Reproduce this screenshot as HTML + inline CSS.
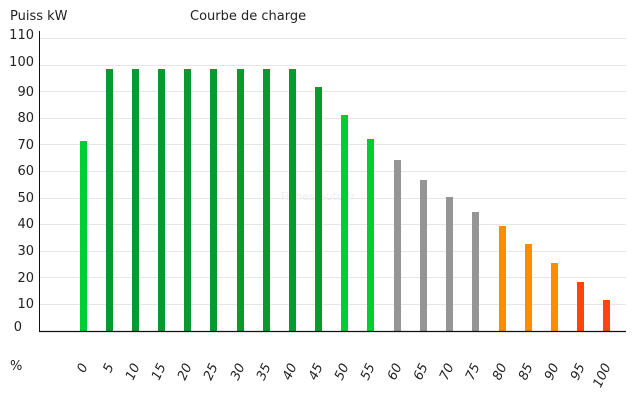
<!DOCTYPE html>
<html><head><meta charset="utf-8"><style>
html,body{margin:0;padding:0;background:#fff;}
svg{display:block;font-family:"DejaVu Sans","Liberation Sans",sans-serif;}
</style></head><body>
<svg width="640" height="400" viewBox="0 0 640 400">
<text x="10" y="20" font-size="13" fill="#222">Puiss kW</text>
<text x="190" y="20" font-size="13" fill="#222">Courbe de charge</text>
<g stroke="#e6e6e6" stroke-width="1">
<line x1="40" x2="626" y1="38.5" y2="38.5"/><line x1="40" x2="626" y1="65.5" y2="65.5"/>
<line x1="40" x2="626" y1="91.5" y2="91.5"/><line x1="40" x2="626" y1="118.5" y2="118.5"/>
<line x1="40" x2="626" y1="144.5" y2="144.5"/><line x1="40" x2="626" y1="171.5" y2="171.5"/>
<line x1="40" x2="626" y1="198.5" y2="198.5"/><line x1="40" x2="626" y1="224.5" y2="224.5"/>
<line x1="40" x2="626" y1="251.5" y2="251.5"/><line x1="40" x2="626" y1="277.5" y2="277.5"/>
<line x1="40" x2="626" y1="304.5" y2="304.5"/>
</g>
<g font-size="13" fill="#222" text-anchor="end">
<text x="34" y="39">110</text><text x="34" y="66">100</text><text x="34" y="96">90</text>
<text x="34" y="122">80</text><text x="34" y="149">70</text><text x="34" y="175">60</text>
<text x="34" y="202">50</text><text x="34" y="228">40</text><text x="34" y="255">30</text>
<text x="34" y="282">20</text><text x="34" y="308">10</text><text x="22" y="331">0</text>
</g>
<text x="10" y="370" font-size="13" fill="#222">%</text>
<text x="318" y="200" font-size="11" fill="#eee" text-anchor="middle">Fiches-auto.fr</text>
<g>
<rect x="80" y="141" width="7" height="190" fill="#00cc33"/>
<rect x="106" y="69" width="7" height="262" fill="#069a30"/>
<rect x="132" y="69" width="7" height="262" fill="#069a30"/>
<rect x="158" y="69" width="7" height="262" fill="#069a30"/>
<rect x="184" y="69" width="7" height="262" fill="#069a30"/>
<rect x="210" y="69" width="7" height="262" fill="#069a30"/>
<rect x="237" y="69" width="7" height="262" fill="#069a30"/>
<rect x="263" y="69" width="7" height="262" fill="#069a30"/>
<rect x="289" y="69" width="7" height="262" fill="#069a30"/>
<rect x="315" y="87" width="7" height="244" fill="#069a30"/>
<rect x="341" y="115" width="7" height="216" fill="#00cc33"/>
<rect x="367" y="139" width="7" height="192" fill="#00cc33"/>
<rect x="394" y="160" width="7" height="171" fill="#959595"/>
<rect x="420" y="180" width="7" height="151" fill="#959595"/>
<rect x="446" y="197" width="7" height="134" fill="#959595"/>
<rect x="472" y="212" width="7" height="119" fill="#959595"/>
<rect x="499" y="226" width="7" height="105" fill="#ff8c00"/>
<rect x="525" y="244" width="7" height="87" fill="#ff8c00"/>
<rect x="551" y="263" width="7" height="68" fill="#ff8c00"/>
<rect x="577" y="282" width="7" height="49" fill="#ff4411"/>
<rect x="603" y="300" width="7" height="31" fill="#ff4411"/>
</g>
<line x1="39.5" y1="31" x2="39.5" y2="331" stroke="#111" stroke-width="1"/>
<line x1="39" y1="331.5" x2="626" y2="331.5" stroke="#111" stroke-width="1.2"/>
<g font-size="13" fill="#222" font-style="italic" text-anchor="end">
<text transform="translate(88,366) rotate(-65)">0</text>
<text transform="translate(114,366) rotate(-65)">5</text>
<text transform="translate(140,366) rotate(-65)">10</text>
<text transform="translate(166,366) rotate(-65)">15</text>
<text transform="translate(192,366) rotate(-65)">20</text>
<text transform="translate(218,366) rotate(-65)">25</text>
<text transform="translate(245,366) rotate(-65)">30</text>
<text transform="translate(271,366) rotate(-65)">35</text>
<text transform="translate(297,366) rotate(-65)">40</text>
<text transform="translate(323,366) rotate(-65)">45</text>
<text transform="translate(349,366) rotate(-65)">50</text>
<text transform="translate(375,366) rotate(-65)">55</text>
<text transform="translate(402,366) rotate(-65)">60</text>
<text transform="translate(428,366) rotate(-65)">65</text>
<text transform="translate(454,366) rotate(-65)">70</text>
<text transform="translate(480,366) rotate(-65)">75</text>
<text transform="translate(507,366) rotate(-65)">80</text>
<text transform="translate(533,366) rotate(-65)">85</text>
<text transform="translate(559,366) rotate(-65)">90</text>
<text transform="translate(585,366) rotate(-65)">95</text>
<text transform="translate(611,366) rotate(-65)">100</text>
</g>
</svg>
</body></html>
